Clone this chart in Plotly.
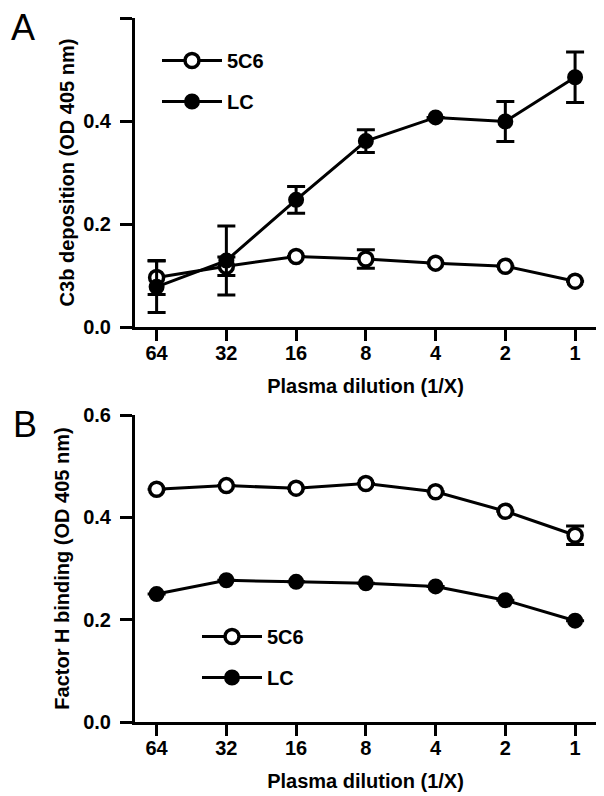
import plotly.graph_objects as go

dilutions = ["64", "32", "16", "8", "4", "2", "1"]

# Panel A: C3b deposition (OD 405 nm)
a_5c6 = [0.096, 0.118, 0.137, 0.132, 0.124, 0.118, 0.089]
a_5c6_err = [0.033, 0.018, None, 0.018, None, None, None]
a_lc = [0.078, 0.129, 0.247, 0.361, 0.407, 0.399, 0.485]
a_lc_err = [0.050, 0.067, 0.026, 0.022, None, 0.039, 0.049]

# Panel B: Factor H binding (OD 405 nm)
b_5c6 = [0.455, 0.462, 0.457, 0.466, 0.450, 0.412, 0.365]
b_5c6_err = [None, None, None, None, None, None, 0.018]
b_lc = [0.250, 0.277, 0.274, 0.271, 0.265, 0.238, 0.198]
b_lc_err = [None] * 7

y_ticks = [0.0, 0.2, 0.4, 0.6]
y_ticktext = ["0.0", "0.2", "0.4", "0.6"]

FONT = "Liberation Sans, Arial, sans-serif"
OFF = 8                      # default page body margin
W, H = 604 - OFF, 796 - OFF  # figure size so it fits the window


def fx(px):
    return (px - OFF) / W


def fy(py):
    return 1 - (py - OFF) / H


fig = go.Figure()


def add_series(x_ax, y_ax, vals, errs, name, open_marker, legend):
    fig.add_trace(go.Scatter(
        x=dilutions, y=vals, name=name, xaxis=x_ax, yaxis=y_ax,
        mode="lines+markers",
        line=dict(color="black", width=3),
        marker=dict(symbol="circle", size=14 if open_marker else 13,
                    color="white" if open_marker else "black",
                    line=dict(color="black", width=3.5 if open_marker else 3)),
        error_y=dict(type="data", array=errs, symmetric=True,
                     color="black", thickness=3, width=9),
        cliponaxis=False, legend=legend, legendgroup=name + legend,
    ))


add_series("x", "y", a_5c6, a_5c6_err, "5C6", True, "legend")
add_series("x", "y", a_lc, a_lc_err, "LC", False, "legend")
add_series("x2", "y2", b_5c6, b_5c6_err, "5C6", True, "legend2")
add_series("x2", "y2", b_lc, b_lc_err, "LC", False, "legend2")

xdom = [fx(135), fx(596)]
ydomA = [fy(327), fy(18)]
ydomB = [fy(722), fy(415)]

tickfont = dict(family=FONT, size=20, color="black", weight="bold")
titlefont = dict(family=FONT, size=20, color="black", weight="bold")


def xaxis(anchor):
    return dict(
        domain=xdom, anchor=anchor, type="category",
        range=[-0.31, 6.3], automargin=False,
        showline=True, linewidth=3, linecolor="black",
        ticks="outside", ticklen=11, tickwidth=3, tickcolor="black",
        tickfont=tickfont, showgrid=False, zeroline=False,
        ticklabelstandoff=-5,
        title=dict(text="Plasma dilution (1/X)", font=titlefont, standoff=16),
        fixedrange=True,
    )


def yaxis(anchor, dom, title, standoff):
    return dict(
        domain=dom, anchor=anchor, range=[0, 0.6], automargin=False,
        tickvals=y_ticks, ticktext=y_ticktext,
        showline=True, linewidth=3, linecolor="black",
        ticks="outside", ticklen=12, tickwidth=3, tickcolor="black",
        tickfont=tickfont, showgrid=False, zeroline=False,
        ticklabelstandoff=5,
        title=dict(text=title, font=titlefont, standoff=standoff),
        fixedrange=True,
    )


legend_common = dict(
    font=dict(family=FONT, size=20, color="black", weight="bold"),
    bgcolor="rgba(0,0,0,0)", itemwidth=60, tracegroupgap=12,
    traceorder="grouped", xanchor="left", yanchor="top",
)

fig.update_layout(
    width=W, height=H,
    margin=dict(l=0, r=0, t=0, b=0),
    paper_bgcolor="white", plot_bgcolor="white",
    font=dict(family=FONT, color="black"),
    xaxis=xaxis("y"),
    yaxis=yaxis("x", ydomA, "C3b deposition (OD 405 nm)", 4),
    xaxis2=xaxis("y2"),
    yaxis2=yaxis("x2", ydomB, "Factor H binding (OD 405 nm)", 9),
    legend=dict(x=fx(157), y=fy(41), **legend_common),
    legend2=dict(x=fx(197), y=fy(617), **legend_common),
    showlegend=True,
    annotations=[
        dict(text="A", x=fx(23), y=fy(27), xref="paper", yref="paper",
             xanchor="center", yanchor="middle",
             showarrow=False, font=dict(family=FONT, size=36, color="black")),
        dict(text="B", x=fx(25), y=fy(425), xref="paper", yref="paper",
             xanchor="center", yanchor="middle",
             showarrow=False, font=dict(family=FONT, size=36, color="black")),
    ],
)

fig.write_html("out.html")
